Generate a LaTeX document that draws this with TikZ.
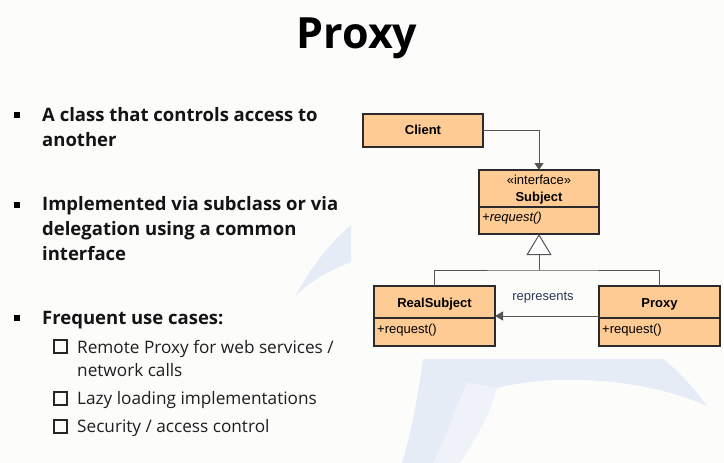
\documentclass[tikz,border=0pt]{standalone}
\usepackage{fontspec}
\setmainfont{Open Sans}
\newfontfamily\umlfont{Liberation Sans}
\usetikzlibrary{arrows.meta,positioning}
\definecolor{umlfill}{HTML}{FDCB93}
\definecolor{umlline}{HTML}{2B2B2B}
\definecolor{connline}{HTML}{555555}
\definecolor{swoosh}{HTML}{E6ECF5}
\definecolor{swooshlt}{HTML}{EFF3F9}
\definecolor{bgcol}{HTML}{FCFCFB}
\definecolor{reptext}{HTML}{2A3A55}
\begin{document}
\begin{tikzpicture}[x=1pt,y=-1pt,
  box/.style={draw=umlline, fill=umlfill, line width=1.3pt, inner sep=0pt, outer sep=0pt, anchor=north west},
  umltxt/.style={font=\umlfont\fontsize{13}{15}\selectfont, inner sep=0pt, text=black, anchor=base},
  umlleft/.style={umltxt, anchor=base west},
  conn/.style={draw=connline, line width=1pt},
  bul/.style={font=\fontsize{18.5}{22}\selectfont\bfseries, anchor=base west, inner sep=0pt, text=black!92},
  subitem/.style={font=\fontsize{17.2}{20}\selectfont, anchor=base west, inner sep=0pt, text=black!88},
  bulsq/.style={fill=black, minimum size=6pt, inner sep=0pt, draw=none},
  chk/.style={draw=black!85, line width=1.5pt, minimum size=13pt, inner sep=0pt},
]
\useasboundingbox (0,0) rectangle (724,463);
\fill[bgcol] (0,0) rectangle (724,463);

% background swooshes
\fill[swoosh] (351,225) -- (351,262) .. controls (325,272) and (305,285) .. (295,297)
  .. controls (310,268) and (330,243) .. (351,225) -- cycle;
\fill[swoosh] (423,359) -- (663,359) .. controls (680,372) and (697,392) .. (707,406)
  .. controls (650,380) and (560,372) .. (497,388) -- (467,383)
  .. controls (455,410) and (445,440) .. (433,463) -- (402,463)
  .. controls (412,430) and (418,395) .. (423,359) -- cycle;
\fill[swooshlt] (467,383) -- (497,388) .. controls (490,415) and (475,440) .. (460,463)
  -- (433,463) .. controls (445,440) and (455,410) .. (467,383) -- cycle;

% title
\node[font=\fontsize{43}{47}\selectfont\bfseries, anchor=base, inner sep=0pt] (title) at (357,48) {Proxy};

% bullets
\node[bulsq] (b1) at (17,114.5) {};
\node[bul] (t1a) at (42,121.7) {A class that controls access to};
\node[bul] (t1b) at (42,146.7) {another};
\node[bulsq] (b2) at (17,204.5) {};
\node[bul] (t2a) at (42,210.7) {Implemented via subclass or via};
\node[bul] (t2b) at (42,235.7) {delegation using a common};
\node[bul] (t2c) at (42,260.7) {interface};
\node[bulsq] (b3) at (17,318) {};
\node[bul] (t3) at (42,324.3) {Frequent use cases:};
\node[chk] (c1) at (60.5,346.7) {};
\node[subitem] (s1a) at (77,353.3) {Remote Proxy for web services /};
\node[subitem] (s1b) at (77,376) {network calls};
\node[chk] (c2) at (60.5,398.3) {};
\node[subitem] (s2) at (77,404.3) {Lazy loading implementations};
\node[chk] (c3) at (60.5,426.7) {};
\node[subitem] (s3) at (77,432.7) {Security / access control};

% UML boxes
\node[box, minimum width=120pt, minimum height=33pt] (client) at (363,114) {};
\node[umltxt, font=\umlfont\bfseries\fontsize{13}{15}\selectfont] (clientT) at (423,134) {Client};

\node[box, minimum width=120pt, minimum height=37pt] (subjH) at (479,170) {};
\node[box, minimum width=120pt, minimum height=27pt] (subjM) at (479,207) {};
\node[umltxt] (subjS) at (539,184) {«interface»};
\node[umltxt, font=\umlfont\bfseries\fontsize{13}{15}\selectfont] (subjT) at (539,201) {Subject};
\node[umlleft, font=\umlfont\itshape\fontsize{13}{15}\selectfont] (subjOp) at (482,221) {+request()};

\node[box, minimum width=121pt, minimum height=32pt] (rsH) at (374,286) {};
\node[box, minimum width=121pt, minimum height=28pt] (rsM) at (374,318) {};
\node[umltxt, font=\umlfont\bfseries\fontsize{13}{15}\selectfont] (rsT) at (434.5,307) {RealSubject};
\node[umlleft] (rsOp) at (377,333) {+request()};

\node[box, minimum width=121pt, minimum height=32pt] (pxH) at (599,286) {};
\node[box, minimum width=121pt, minimum height=28pt] (pxM) at (599,318) {};
\node[umltxt, font=\umlfont\bfseries\fontsize{13}{15}\selectfont] (pxT) at (659.5,307) {Proxy};
\node[umlleft] (pxOp) at (602,333) {+request()};

% connectors
\draw[conn, -{Triangle[width=9pt,length=7pt]}] (client.east) -| (subjH.north);
\coordinate (junc) at (539,270);
\draw[conn] (rsH.north) |- (junc) -| (pxH.north);
\draw[conn, -{Triangle[width=25pt,length=21pt,fill=white,line width=1pt]}] (junc) -- (subjM.south);
\draw[conn, -{Triangle[width=9pt,length=8pt]}] ([yshift=2pt]pxH.south west) -- ([yshift=2pt]rsH.south east);
\node[umltxt, text=reptext] (rep) at (543,300) {represents};
\end{tikzpicture}
\end{document}
